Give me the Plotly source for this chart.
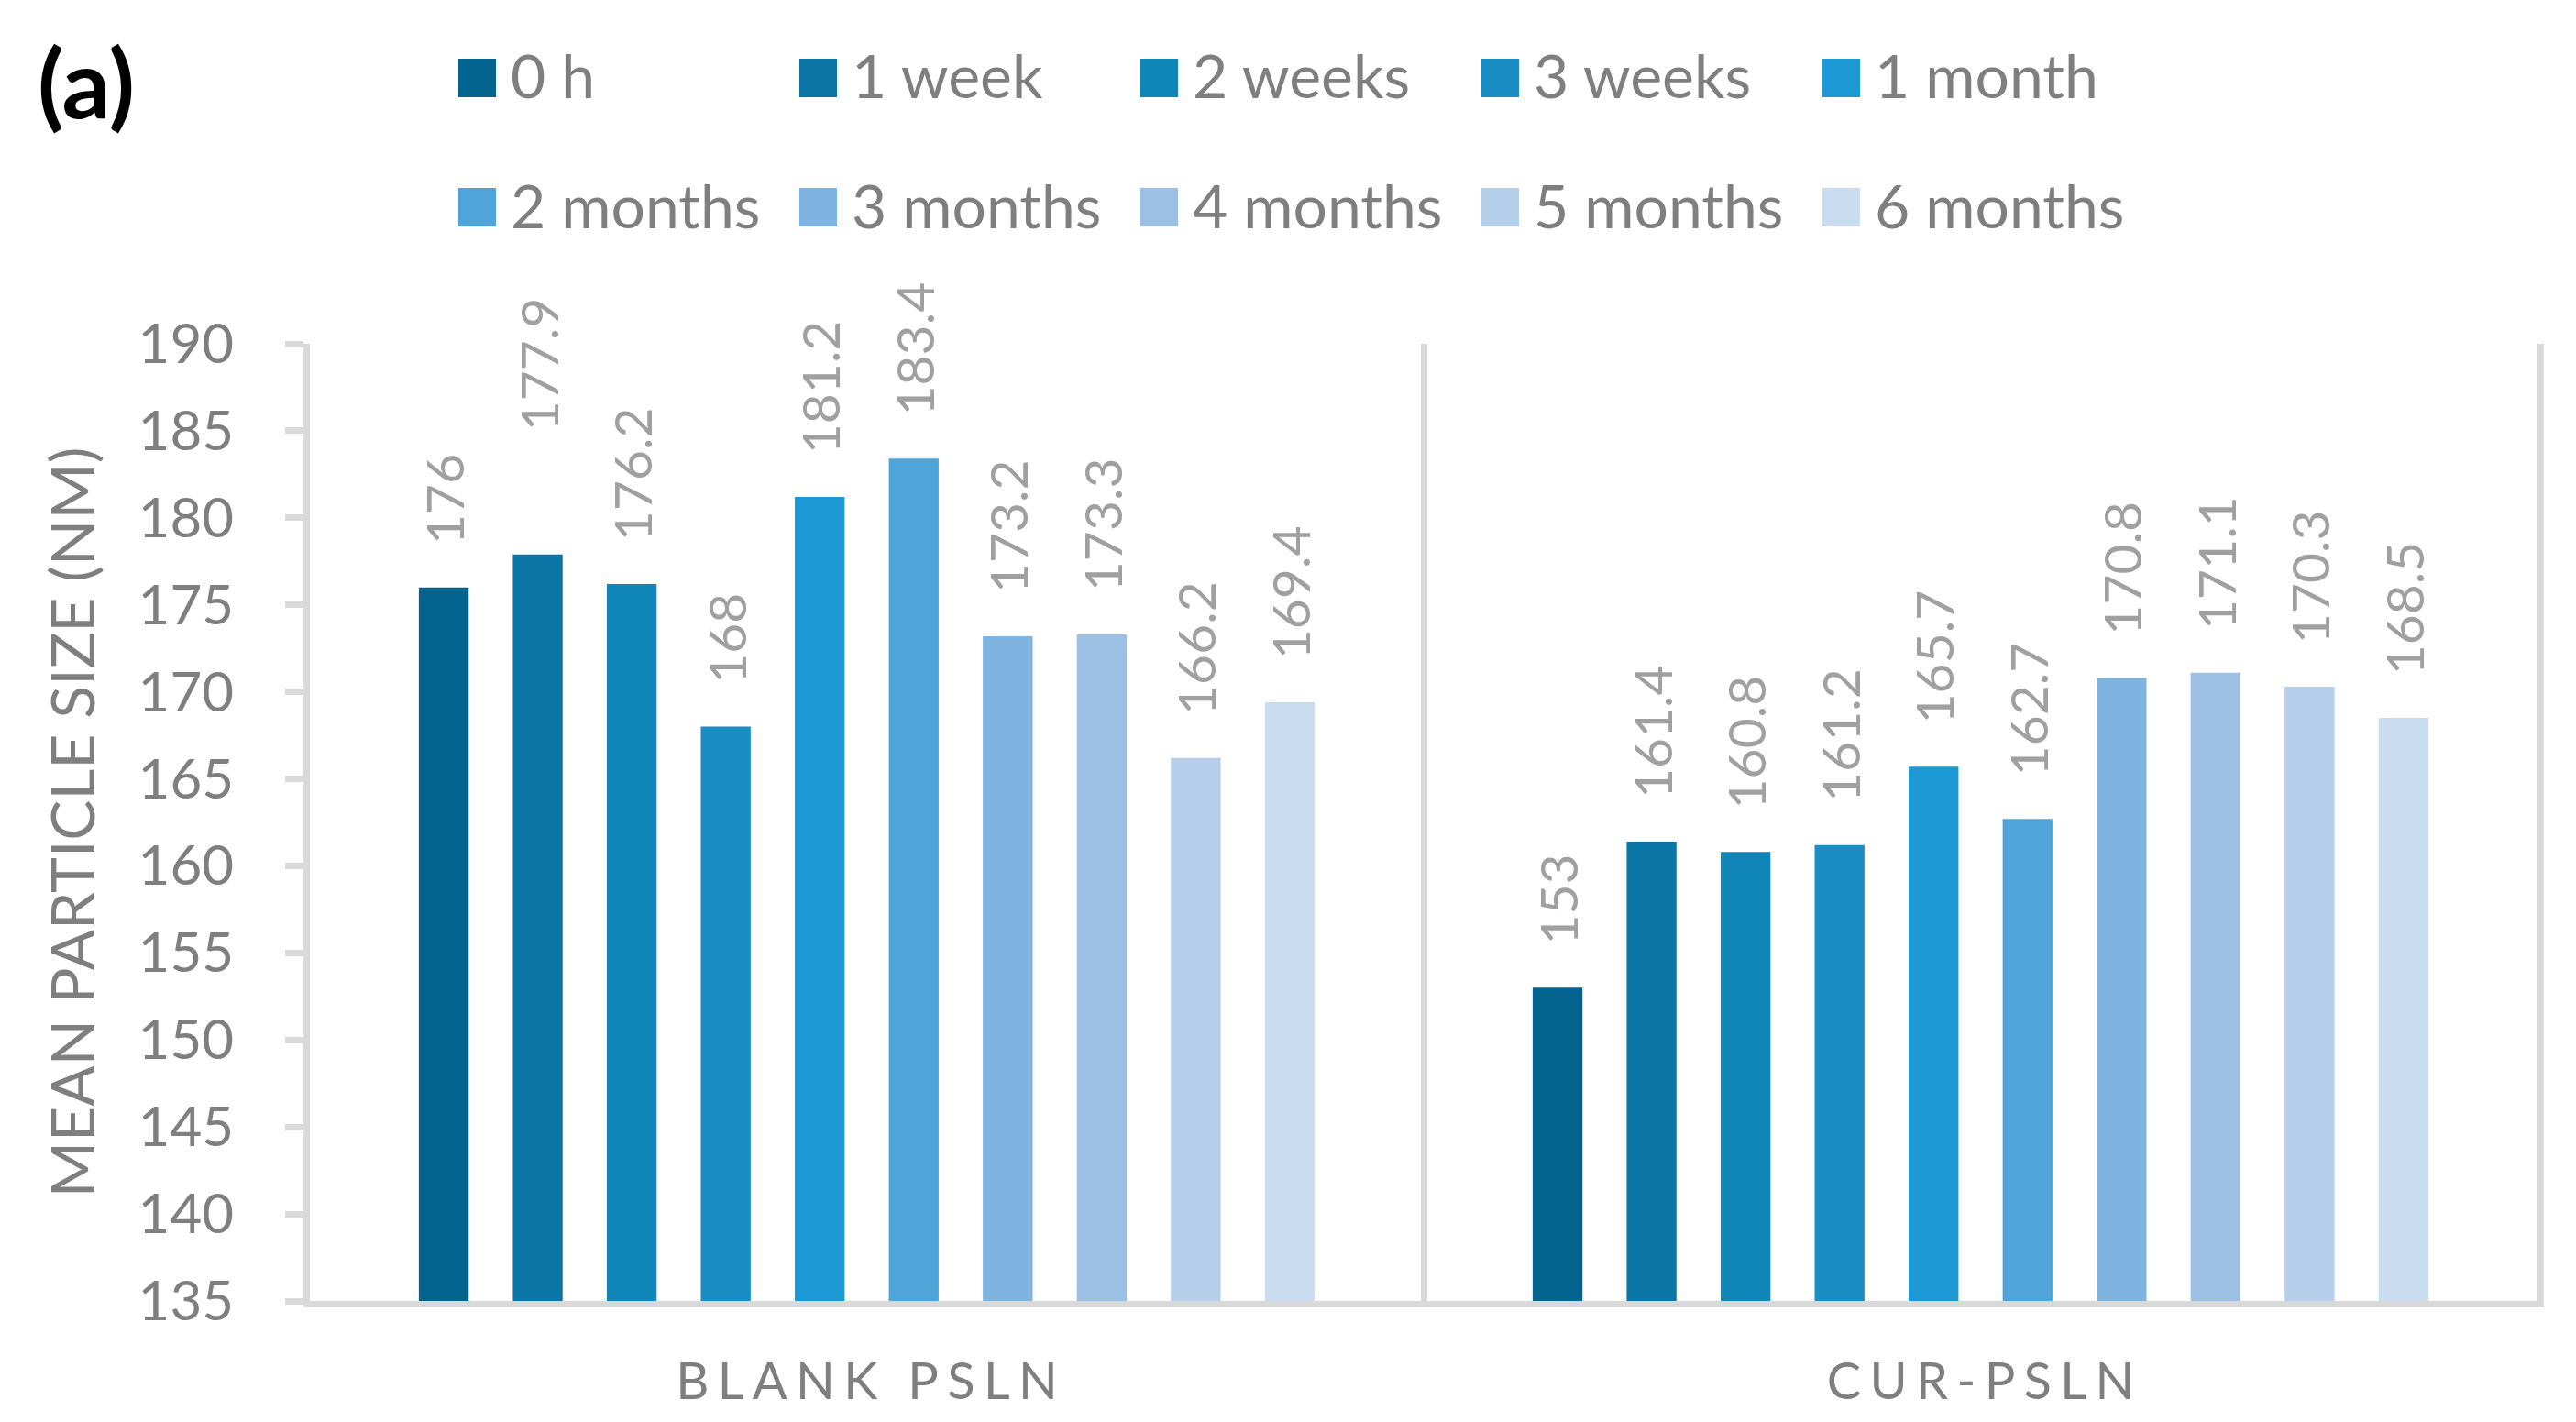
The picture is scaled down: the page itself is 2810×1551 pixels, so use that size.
import plotly.graph_objects as go

# ---------------- data ----------------
categories = ["BLANK PSLN", "CUR-PSLN"]
series_names = ["0 h", "1 week", "2 weeks", "3 weeks", "1 month",
                "2 months", "3 months", "4 months", "5 months", "6 months"]
blank_values = [176, 177.9, 176.2, 168, 181.2, 183.4, 173.2, 173.3, 166.2, 169.4]
cur_values = [153, 161.4, 160.8, 161.2, 165.7, 162.7, 170.8, 171.1, 170.3, 168.5]
series_colors = ["#02648F", "#0B76A6", "#1085B8", "#1A8DC4", "#1C98D4",
                 "#4FA4DA", "#7FB3E0", "#9CC0E4", "#B5CFEA", "#C9DCF0"]
y_tick_values = [135, 140, 145, 150, 155, 160, 165, 170, 175, 180, 185, 190]
y_title = "MEAN PARTICLE SIZE (NM)"
panel_label = "(a)"

# ---------------- layout geometry / style ----------------
W, H = 2810, 1551
L, R, T, B = 330, 50, 367, 140
PW, PH = W - L - R, H - T - B
FONT = "Lato, 'Open Sans', sans-serif"
GRAY = "#7F7F7F"
LINE = "#D9D9D9"
LABEL_PAD = 3                      # non-breaking spaces before each data label
RAISED_LABEL = {(0, 1): 6}         # (category index, series index): extra padding


def px_x(px):
    return (px - L) / PW


def px_y(py):
    return (H - B - py) / PH


fig = go.Figure()
for i, name in enumerate(series_names):
    vals = [blank_values[i], cur_values[i]]
    labels = []
    for c, v in enumerate(vals):
        pad = LABEL_PAD + RAISED_LABEL.get((c, i), 0)
        labels.append("\u00a0" * pad + f"{v:g}")
    fig.add_trace(go.Bar(
        x=categories,
        y=vals,
        name=name,
        marker=dict(color=series_colors[i], line=dict(width=0)),
        text=labels,
        textposition="outside",
        textangle=-90,
        textfont=dict(family=FONT, size=57, color="#A0A0A0"),
        constraintext="none",
        cliponaxis=False,
        showlegend=False,
        hoverinfo="x+y+name",
    ))

# custom legend (large square swatches)
shapes = []
annotations = []
for i, name in enumerate(series_names):
    row, col = divmod(i, 5)
    x0 = 492 + 372 * col
    yc = 77 + 141 * row
    shapes.append(dict(type="rect", xref="paper", yref="paper",
                       x0=px_x(x0), x1=px_x(x0 + 41),
                       y0=px_y(yc + 21), y1=px_y(yc - 21),
                       fillcolor=series_colors[i], line=dict(width=0)))
    annotations.append(dict(xref="paper", yref="paper",
                            x=px_x(x0 + 55), y=px_y(yc - 3),
                            xanchor="left", yanchor="middle",
                            text=name, showarrow=False,
                            font=dict(family=FONT, size=66, color=GRAY)))

annotations.append(dict(xref="paper", yref="paper",
                        x=px_x(86), y=px_y(80),
                        xanchor="center", yanchor="middle",
                        text="<b>" + panel_label + "</b>", showarrow=False,
                        font=dict(family=FONT, size=104, color="#000000")))

tick_text = ["\u2006".join(list(c)) for c in categories]

fig.update_layout(
    width=W, height=H,
    margin=dict(l=L, r=R, t=T, b=B, pad=0),
    paper_bgcolor="white", plot_bgcolor="white",
    barmode="group", bargap=0.156, bargroupgap=0.47,
    font=dict(family=FONT, color=GRAY),
    shapes=shapes, annotations=annotations,
    showlegend=False,
    xaxis=dict(
        type="category",
        tickvals=categories, ticktext=tick_text,
        tickson="boundaries",
        showgrid=True, gridcolor=LINE, gridwidth=7,
        showline=True, linecolor=LINE, linewidth=7,
        ticks="", ticklabelstandoff=33,
        tickfont=dict(family=FONT, size=56, color=GRAY),
        zeroline=False,
    ),
    yaxis=dict(
        range=[135, 190],
        tickvals=y_tick_values,
        showgrid=False, zeroline=False,
        showline=True, linecolor=LINE, linewidth=7, mirror=True,
        ticks="outside", ticklen=20, tickwidth=7, tickcolor=LINE,
        ticklabelstandoff=44,
        tickfont=dict(family=FONT, size=60, color=GRAY),
        title=dict(text=y_title, standoff=28,
                   font=dict(family=FONT, size=66, color=GRAY)),
    ),
)

fig.write_html("out.html")
